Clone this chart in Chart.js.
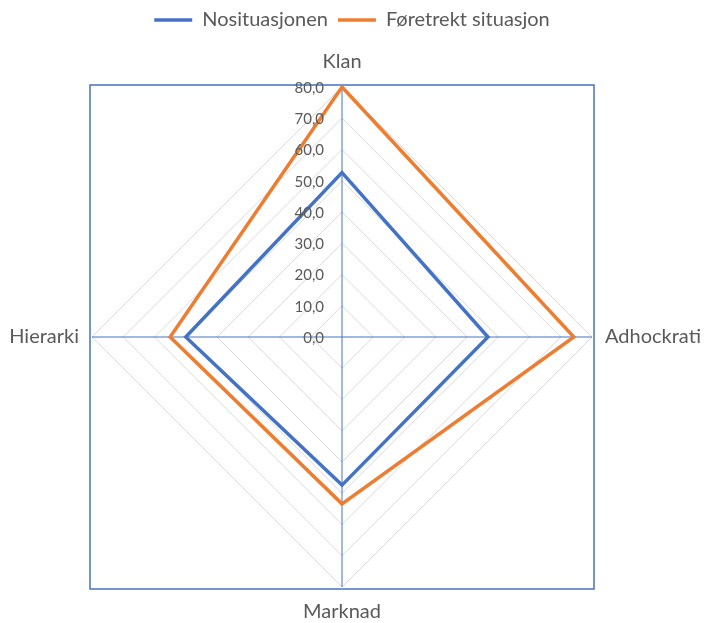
<!DOCTYPE html>
<html lang="no">
<head>
<meta charset="utf-8">
<title>Organisasjonskultur</title>
<script src="https://cdn.jsdelivr.net/npm/chart.js@4/dist/chart.umd.min.js"></script>
<style>
  html, body { margin: 0; padding: 0; background: #ffffff; }
  #wrap { width: 704px; height: 623px; }
</style>
</head>
<body>
<div id="wrap"><canvas id="chart" width="704" height="623"></canvas></div>
<script>
// Culture dimensions (radar spokes, clockwise from the top)
const categories = ['Klan', 'Adhockrati', 'Marknad', 'Hierarki'];

// Series names
const seriesNames = ['Nosituasjonen', 'Føretrekt situasjon'];

// Scores per dimension
const nosituasjonen = [52.6, 46.7, 47.4, 50.0];
const foretrektSituasjon = [80.0, 74.2, 53.4, 55.0];

// Value axis range and step
const axisMin = 0;
const axisMax = 80;
const axisStep = 10;

const TEXT = '#595959';
const BLUE = '#4472C4';
const ORANGE = '#ED7D31';
const FONT = 'Lato, "Liberation Sans", sans-serif';

// Radar placement inside the canvas
const geometry = { cx: 342, cy: 337, r: 250 };

const fmt = v => v.toFixed(1).replace('.', ',');

// Draws the plot-area frame, the value labels beside the vertical spoke and the spoke titles
const radarDecor = {
  id: 'radarDecor',
  beforeDatasetsDraw(chart) {
    const s = chart.scales.r;
    const ctx = chart.ctx;
    ctx.save();
    // frame around the radar
    const m = s.drawingArea + 2;
    ctx.strokeStyle = BLUE;
    ctx.lineWidth = 1.5;
    ctx.strokeRect(s.xCenter - m, s.yCenter - m, 2 * m, 2 * m);
    ctx.restore();
  },
  afterDatasetsDraw(chart) {
    const s = chart.scales.r;
    const ctx = chart.ctx;
    ctx.save();
    // value labels, right-aligned against the top spoke
    ctx.fillStyle = TEXT;
    ctx.font = '15px ' + FONT;
    ctx.textAlign = 'right';
    ctx.textBaseline = 'middle';
    s.ticks.forEach(t => {
      const d = s.getDistanceFromCenterForValue(t.value);
      ctx.fillText(fmt(t.value), s.xCenter - 18, s.yCenter - d + 1);
    });
    // spoke titles
    ctx.font = '20px ' + FONT;
    const outer = s.getDistanceFromCenterForValue(axisMax);
    categories.forEach((label, i) => {
      const angle = s.getIndexAngle(i);
      const sin = Math.sin(angle), cos = Math.cos(angle);
      const vertical = Math.abs(cos) > 0.5;
      const p = s.getPointPosition(i, outer + (vertical ? 25 : 13));
      ctx.textBaseline = 'middle';
      if (vertical) ctx.textAlign = 'center';
      else ctx.textAlign = sin > 0 ? 'left' : 'right';
      ctx.fillText(label, p.x, p.y);
    });
    ctx.restore();
  }
};

new Chart(document.getElementById('chart'), {
  type: 'radar',
  data: {
    labels: categories,
    datasets: [
      {
        label: seriesNames[0],
        data: nosituasjonen,
        borderColor: BLUE,
        backgroundColor: BLUE,
        borderWidth: 3.5,
        fill: false,
        pointRadius: 0,
        pointHoverRadius: 0,
        borderJoinStyle: 'miter'
      },
      {
        label: seriesNames[1],
        data: foretrektSituasjon,
        borderColor: ORANGE,
        backgroundColor: ORANGE,
        borderWidth: 3.5,
        fill: false,
        pointRadius: 0,
        pointHoverRadius: 0,
        borderJoinStyle: 'miter'
      }
    ]
  },
  options: {
    responsive: false,
    animation: false,
    devicePixelRatio: 1,
    plugins: {
      legend: {
        position: 'top',
        labels: {
          usePointStyle: true,
          pointStyle: 'line',
          pointStyleWidth: 38,
          color: TEXT,
          padding: 10,
          font: { family: FONT, size: 20 }
        }
      },
      tooltip: { enabled: false }
    },
    scales: {
      r: {
        min: axisMin,
        max: axisMax,
        ticks: { stepSize: axisStep, display: false },
        pointLabels: { display: false },
        grid: { circular: false, color: '#D9D9D9', lineWidth: 1 },
        angleLines: { display: true, color: BLUE, lineWidth: 1 },
        afterFit(scale) {
          scale.xCenter = geometry.cx;
          scale.yCenter = geometry.cy;
          scale.drawingArea = geometry.r;
        }
      }
    }
  },
  plugins: [radarDecor]
});
</script>
</body>
</html>
